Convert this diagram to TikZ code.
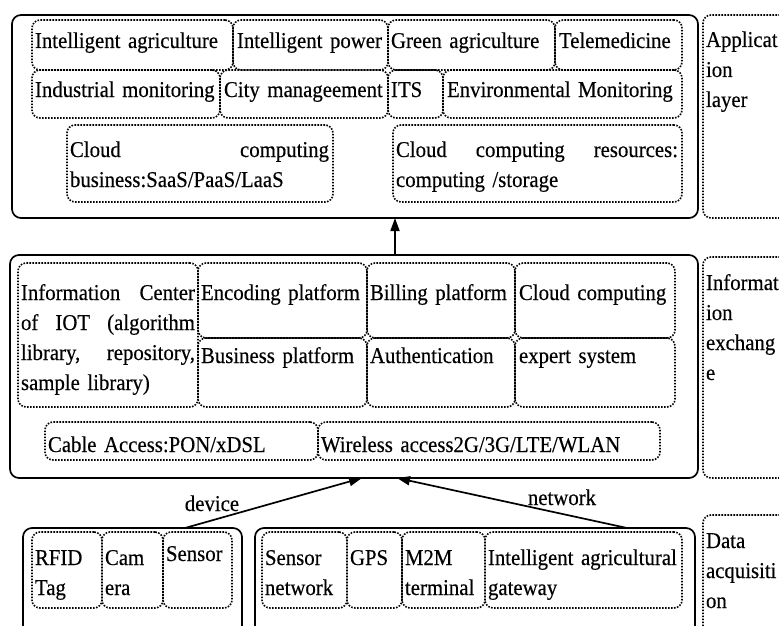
\documentclass[tikz,border=0pt]{standalone}
\usepackage{fontspec}
\setmainfont[FakeStretch=0.92,FakeBold=0.35]{Liberation Serif}
\usetikzlibrary{arrows.meta}
\tikzset{
 solidbox/.style={draw, line width=1.7pt, rounded corners=9pt, inner sep=0pt, outer sep=0pt},
 dbox/.style={draw, line width=1.6pt, dash pattern=on 1.6pt off 1.4pt, rounded corners=8pt, inner sep=0pt, outer sep=0pt},
 txt/.style={inner sep=0pt, outer sep=0pt, anchor=base west, align=left, font=\fontsize{22.6}{30}\selectfont},
 arr/.style={line width=1.7pt, -{Triangle[length=13pt,width=9pt]}},
}
\newcommand\bx[6][dbox]{\node[#1, minimum width={(#4-#2)*1pt}, minimum height={(#5-#3)*1pt}] (#6) at ({(#2+#4)/2},{(#3+#5)/2}) {};}
\newcommand\tx[5]{\node[txt, text width=#4] (#1) at (#2,#3) {#5};}
\begin{document}
\begin{tikzpicture}[x=1pt,y=-1pt]
\useasboundingbox (0,0) rectangle (779,626);
\clip (0,0) rectangle (779,626);
% ---------- application layer ----------
\bx[solidbox]{12}{15}{698}{218}{app}
\bx{703}{15}{800}{218}{appl}
\bx{32}{20}{233}{70}{ia}
\bx{233}{20}{388}{70}{ip}
\bx{388}{20}{555}{70}{ga}
\bx{555}{20}{682}{70}{tm}
\bx{32}{70}{220}{118}{im}
\bx{220}{70}{388}{118}{cm}
\bx{388}{70}{443}{118}{its}
\bx{443}{70}{682}{118}{em}
\bx{67}{125}{333}{202}{ccb}
\bx{393}{125}{682}{202}{ccr}
\tx{ia-t}{35}{48}{200pt}{Intelligent agriculture}
\tx{ip-t}{237}{48}{160pt}{Intelligent power}
\tx{ga-t}{391}{48}{165pt}{Green agriculture}
\tx{tm-t}{559}{48}{125pt}{Telemedicine}
\tx{im-t}{35}{97}{190pt}{Industrial monitoring}
\tx{cm-t}{224}{97}{170pt}{City manageement}
\tx{its-t}{391}{97}{55pt}{ITS}
\tx{em-t}{447}{97}{240pt}{Environmental Monitoring}
\tx{ccb-t}{70}{157}{259pt}{Cloud\hfill computing\\business:SaaS/PaaS/LaaS}
\tx{ccr-t}{396}{157}{282pt}{Cloud\hfill computing\hfill resources:\\computing /storage}
\tx{appl-t}{706}{47}{90pt}{Applicat\\ion\\layer}
% ---------- information exchange ----------
\bx[solidbox]{10}{255}{698}{478}{mid}
\bx{703}{257}{800}{478}{midl}
\bx{18}{263}{198}{407}{ic}
\bx{198}{263}{367}{338}{enc}
\bx{198}{338}{367}{407}{bus}
\bx{367}{263}{515}{338}{bil}
\bx{367}{338}{515}{407}{aut}
\bx{515}{263}{675}{338}{clc}
\bx{515}{338}{675}{407}{exs}
\bx{45}{422}{318}{460}{cab}
\bx{318}{422}{660}{460}{wir}
\tx{ic-t}{21}{300}{174pt}{Information\hfill Center\\of\hfill IOT\hfill (algorithm\\library,\hfill repository,\\sample library)}
\tx{enc-t}{201}{300}{170pt}{Encoding platform}
\tx{bil-t}{370}{300}{150pt}{Billing platform}
\tx{clc-t}{519}{300}{160pt}{Cloud computing}
\tx{bus-t}{201}{363}{170pt}{Business platform}
\tx{aut-t}{370}{363}{150pt}{Authentication}
\tx{exs-t}{519}{363}{160pt}{expert system}
\tx{cab-t}{48}{452}{270pt}{Cable Access:PON/xDSL}
\tx{wir-t}{321}{452}{340pt}{Wireless access2G/3G/LTE/WLAN}
\tx{midl-t}{706}{290}{90pt}{Informat\\ion\\exchang\\e}
% ---------- data acquisition ----------
\bx[solidbox]{23}{528}{242}{650}{dev}
\bx[solidbox]{255}{528}{695}{650}{net}
\bx{703}{515}{800}{650}{datl}
\bx{32}{532}{102}{608}{rfid}
\bx{102}{532}{163}{608}{cam}
\bx{163}{532}{232}{608}{sen}
\bx{262}{532}{347}{608}{snw}
\bx{347}{532}{402}{608}{gps}
\bx{402}{532}{485}{608}{m2m}
\bx{485}{532}{682}{608}{gw}
\tx{rfid-t}{35}{565}{70pt}{RFID\\Tag}
\tx{cam-t}{105}{565}{60pt}{Cam\\era}
\tx{sen-t}{166}{561}{70pt}{Sensor}
\tx{snw-t}{265}{565}{85pt}{Sensor\\network}
\tx{gps-t}{350}{565}{55pt}{GPS}
\tx{m2m-t}{405}{565}{85pt}{M2M\\terminal}
\tx{gw-t}{488}{565}{200pt}{Intelligent agricultural\\gateway}
\tx{datl-t}{706}{548}{90pt}{Data\\acquisiti\\on}
% ---------- connectors ----------
\coordinate (upA) at (395,255);
\coordinate (upB) at (395,218);
\coordinate (devA) at (185,528);
\coordinate (devB) at (362,478);
\coordinate (netA) at (627,528);
\coordinate (netB) at (397,478);
\draw[arr] (upA) -- (upB);
\draw[arr] (devA) -- (devB);
\draw[arr] (netA) -- (netB);
\node[txt, anchor=base] (devl) at (212,511) {device};
\node[txt, anchor=base] (netl) at (562,505) {network};
\end{tikzpicture}
\end{document}
